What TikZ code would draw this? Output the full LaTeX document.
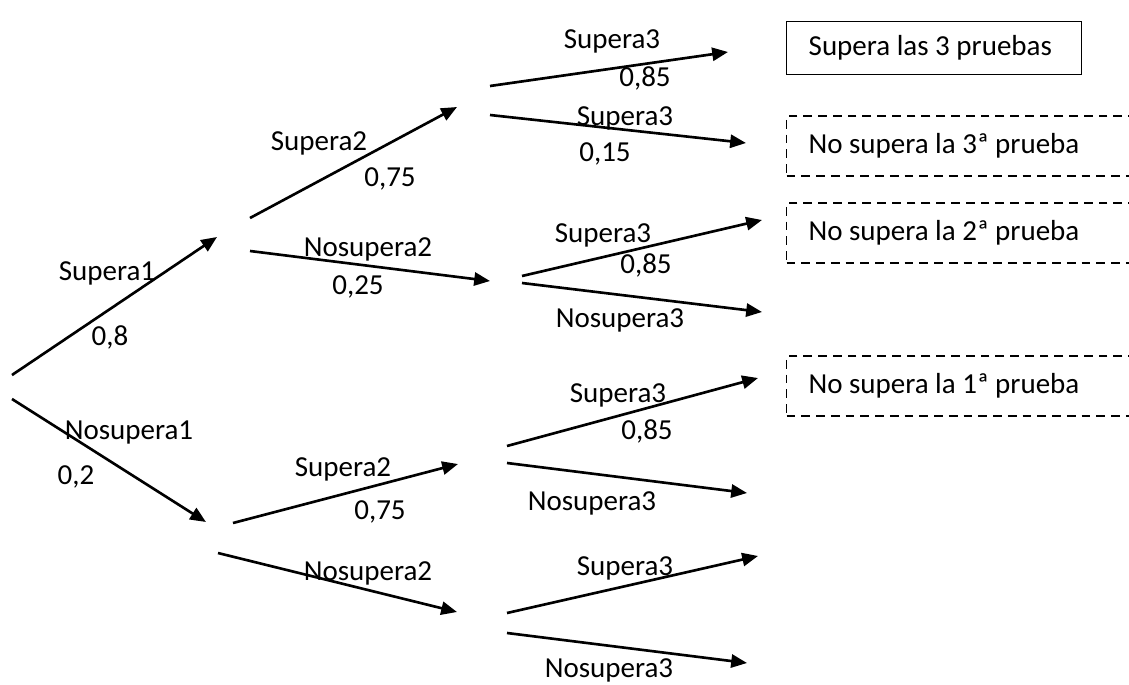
\documentclass[tikz,border=0pt]{standalone}
\usepackage{fontspec}
\setmainfont{Carlito}
\usetikzlibrary{arrows.meta}

\begin{document}
\begin{tikzpicture}[x=0.02cm,y=-0.02cm,
  >={Triangle[length=9pt,width=7.5pt]},
  branch/.style={line width=1.5pt,->},
  lbl/.style={inner sep=0pt,font=\fontsize{16.5}{19}\selectfont},
  result/.style={draw,line width=0.8pt,anchor=west,minimum height=1.06cm,
    inner xsep=0.44cm,align=flush left,font=\fontsize{16.5}{19}\selectfont},
  fail/.style={result,minimum height=1.2cm,line width=0.6pt,dash pattern=on 5pt off 3.4pt}]

\clip (0,0) rectangle (1129,684);

% first test
\coordinate (root up) at (12,375);
\coordinate (root down) at (12,399);
\coordinate (supera1) at (217,237);
\coordinate (nosupera1) at (206,522);

\draw[branch] (root up) -- (supera1);
\draw[branch] (root down) -- (nosupera1);

\node[lbl] (l supera1) at (107,273) {Supera1};
\node[lbl] (p supera1) at (110,337) {0,8};
\node[lbl] (l nosupera1) at (129,432) {Nosupera1};
\node[lbl] (p nosupera1) at (76,477) {0,2};

% second test, after supera1
\coordinate (s1 up) at (250,218);
\coordinate (s1 down) at (250,251);
\coordinate (s1 supera2) at (457,107);
\coordinate (s1 nosupera2) at (490,281);

\draw[branch] (s1 up) -- (s1 supera2);
\draw[branch] (s1 down) -- (s1 nosupera2);

\node[lbl] (l s1 supera2) at (319,143) {Supera2};
\node[lbl] (p s1 supera2) at (390,179) {0,75};
\node[lbl] (l s1 nosupera2) at (368,249) {Nosupera2};
\node[lbl] (p s1 nosupera2) at (358,287) {0,25};

% second test, after nosupera1
\coordinate (n1 up) at (233,523);
\coordinate (n1 down) at (218,553);
\coordinate (n1 supera2) at (458,464);
\coordinate (n1 nosupera2) at (457,612);

\draw[branch] (n1 up) -- (n1 supera2);
\draw[branch] (n1 down) -- (n1 nosupera2);

\node[lbl] (l n1 supera2) at (343,469) {Supera2};
\node[lbl] (p n1 supera2) at (380,512) {0,75};
\node[lbl] (l n1 nosupera2) at (368,573) {Nosupera2};

% third test, after supera2
\coordinate (a up) at (490,86);
\coordinate (a down) at (490,115);
\coordinate (a supera3) at (728,52);
\coordinate (a nosupera3) at (746,143);

\draw[branch] (a up) -- (a supera3);
\draw[branch] (a down) -- (a nosupera3);

\node[lbl] (l a supera3) at (612,41) {Supera3};
\node[lbl] (p a supera3) at (645,78) {0,85};
\node[lbl] (l a nosupera3) at (625,118) {Supera3};
\node[lbl] (p a nosupera3) at (605,154) {0,15};

% third test, after nosupera2
\coordinate (b up) at (522,276);
\coordinate (b down) at (522,283);
\coordinate (b supera3) at (762,220);
\coordinate (b nosupera3) at (762,312);

\draw[branch] (b up) -- (b supera3);
\draw[branch] (b down) -- (b nosupera3);

\node[lbl] (l b supera3) at (603,235) {Supera3};
\node[lbl] (p b supera3) at (646,265) {0,85};
\node[lbl] (l b nosupera3) at (620,320) {Nosupera3};

% third test, after nosupera1 supera2
\coordinate (c up) at (507,446);
\coordinate (c down) at (507,463);
\coordinate (c supera3) at (758,378);
\coordinate (c nosupera3) at (747,493);

\draw[branch] (c up) -- (c supera3);
\draw[branch] (c down) -- (c nosupera3);

\node[lbl] (l c supera3) at (618,395) {Supera3};
\node[lbl] (p c supera3) at (647,431) {0,85};
\node[lbl] (l c nosupera3) at (592,503) {Nosupera3};

% third test, after nosupera1 nosupera2
\coordinate (d up) at (507,613);
\coordinate (d down) at (507,633);
\coordinate (d supera3) at (758,556);
\coordinate (d nosupera3) at (747,663);

\draw[branch] (d up) -- (d supera3);
\draw[branch] (d down) -- (d nosupera3);

\node[lbl] (l d supera3) at (625,568) {Supera3};
\node[lbl] (l d nosupera3) at (609,670) {Nosupera3};

% result boxes
\node[result,text width=5.02cm] (all three) at (786,48) {Supera las 3 pruebas};
\node[fail,text width=6.6cm] (fail three) at (786,146) {No supera la 3ª prueba};
\node[fail,text width=6.6cm] (fail two) at (786,233) {No supera la 2ª prueba};
\node[fail,text width=6.6cm] (fail one) at (786,386) {No supera la 1ª prueba};

\end{tikzpicture}
\end{document}
